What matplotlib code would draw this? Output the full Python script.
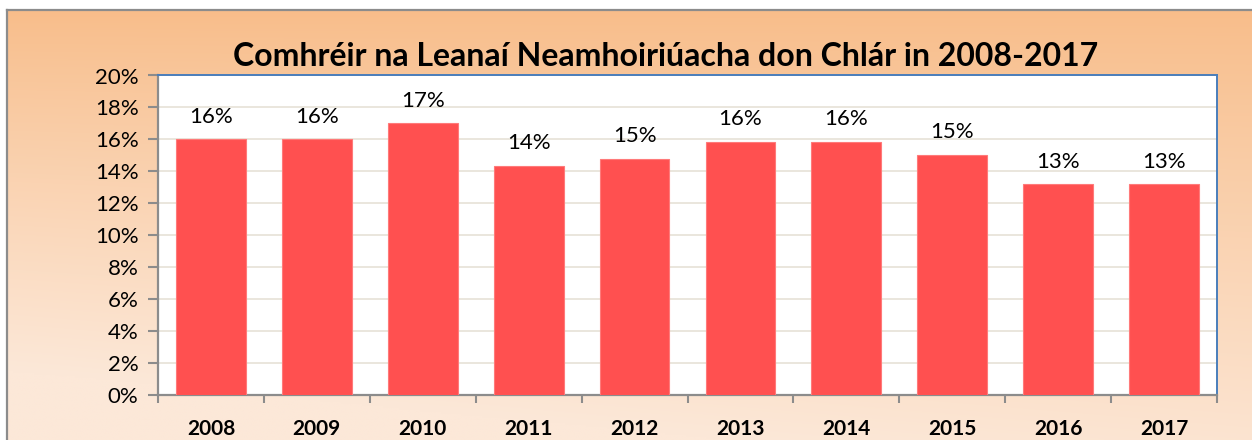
import numpy as np
import matplotlib
matplotlib.use("Agg")
import matplotlib.pyplot as plt
from matplotlib.ticker import FixedLocator, FixedFormatter
from matplotlib.lines import Line2D

# ---- data ----
years = ["2008", "2009", "2010", "2011", "2012", "2013", "2014", "2015", "2016", "2017"]
values = [16.0, 16.0, 17.0, 14.35, 14.8, 15.85, 15.85, 15.05, 13.2, 13.2]
value_labels = ["16%", "16%", "17%", "14%", "15%", "16%", "16%", "15%", "13%", "13%"]
title_text = "Comhréir na Leanaí Neamhoiriúacha don Chlár in 2008-2017"
ytick_values = [0, 2, 4, 6, 8, 10, 12, 14, 16, 18, 20]
ytick_labels = ["0%", "2%", "4%", "6%", "8%", "10%", "12%", "14%", "16%", "18%", "20%"]

FONT = ["Lato", "DejaVu Sans"]
plt.rcParams['font.family'] = FONT

W, H = 1252, 440
fig = plt.figure(figsize=(W / 100, H / 100), dpi=100)
fig.patch.set_facecolor("white")

# ---- background gradient panel ----
bg = fig.add_axes([0, 0, 1, 1])
bg.set_xlim(0, W)
bg.set_ylim(H, 0)
bg.axis("off")
nx, ny = 300, 220
xs = np.linspace(7, W, nx)
ys = np.linspace(10, H, ny)
X, Y = np.meshgrid(xs, ys)
t = np.clip((Y - 10) / (360 + 120 * (X / W)), 0, 1) ** 0.9
top = np.array([0xF8, 0xBD, 0x8A]) / 255
bot = np.array([0xFC, 0xE8, 0xD8]) / 255
img = top[None, None, :] * (1 - t[..., None]) + bot[None, None, :] * t[..., None]
bg.imshow(img, extent=(7, W, H, 10), aspect="auto", interpolation="bilinear", zorder=0)
bg.add_line(Line2D([7, 7], [10, H], color="#8C8C8C", lw=1.6, zorder=2))
bg.add_line(Line2D([7, W], [10, 10], color="#8C8C8C", lw=1.6, zorder=2))

# ---- title ----
fig.text(666 / W, 1 - 66 / H, title_text, ha="center", va="baseline",
         fontsize=23, fontweight="bold", color="black")

# ---- plot area ----
L, R, T, B = 158, 1217, 75.5, 395
ax = fig.add_axes([L / W, 1 - B / H, (R - L) / W, (B - T) / H])
ax.set_facecolor("white")
x = np.arange(len(years))
ax.bar(x, values, width=0.66, color="#FF5050", edgecolor="#FF7A7A", linewidth=0.8, zorder=3)
ax.set_xlim(-0.5, len(years) - 0.5)
ax.set_ylim(0, 20)

ax.yaxis.set_major_locator(FixedLocator(ytick_values))
ax.yaxis.set_major_formatter(FixedFormatter(ytick_labels))
ax.grid(axis="y", color="#E8E4DA", lw=1.3, zorder=1)
ax.set_axisbelow(True)

ax.set_xticks(x)
ax.set_xticklabels(years, fontsize=15, fontweight="bold")
ax.set_xticks(np.arange(-0.5, len(years)), minor=True)
ax.tick_params(axis="x", which="major", length=0, pad=17)
ax.tick_params(axis="x", which="minor", length=6, width=1.5, color="#8C8C8C", direction="out")
ax.tick_params(axis="y", length=7, width=1.5, color="#8C8C8C", labelsize=16, pad=7)

for s in ["left", "bottom"]:
    ax.spines[s].set_color("#8C8C8C")
    ax.spines[s].set_linewidth(1.6)
for s in ["top", "right"]:
    ax.spines[s].set_color("#4A7EBB")
    ax.spines[s].set_linewidth(1.4)

for xi, v, lab in zip(x, values, value_labels):
    ax.annotate(lab, (xi, v), xytext=(0, 9), textcoords="offset points",
                ha="center", va="bottom", fontsize=16, color="black")

fig.savefig("out.png", dpi=100)
